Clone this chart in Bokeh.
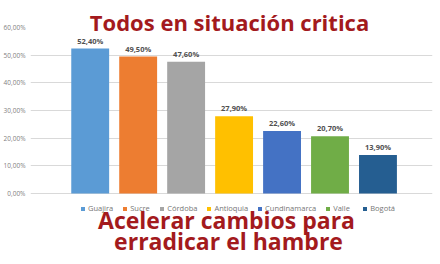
from bokeh.plotting import figure
from bokeh.models import Range1d, FixedTicker, ColumnDataSource, Legend, LegendItem
from bokeh.core.properties import value
from bokeh.embed import file_html
from bokeh.resources import INLINE

# ---- data ----
categories = ["Guajira", "Sucre", "Córdoba", "Antioquia", "Cundinamarca", "Valle", "Bogotá"]
values = [52.4, 49.5, 47.6, 27.9, 22.6, 20.7, 13.9]
value_labels = ["52,40%", "49,50%", "47,60%", "27,90%", "22,60%", "20,70%", "13,90%"]
colors = ["#5b9bd5", "#ed7d31", "#a5a5a5", "#ffc000", "#4472c4", "#70ad47", "#255e91"]
y_ticks = [0, 10, 20, 30, 40, 50, 60]
y_tick_labels = ["0,00%", "10,00%", "20,00%", "30,00%", "40,00%", "50,00%", "60,00%"]
title_text = "Todos en situación critica"
subtitle_lines = ["Acelerar cambios para", "erradicar el hambre"]

# ---- layout helpers (pixel -> data) ----
W, H = 440, 264
FL, FR = 28, 432
x0_px, dx_px = 88.0, 48.2       # first bar centre, spacing
y0_px, dy_px = 193.0, 2.767     # 0% line, pixels per percent

def px2x(px):
    return (px - x0_px) / dx_px

def py2y(py):
    return (y0_px - py) / dy_px

p = figure(width=W, height=H,
           x_range=Range1d(px2x(FL), px2x(FR)),
           y_range=Range1d(py2y(H), py2y(0)),
           output_backend="svg", toolbar_location=None,
           x_axis_location=None, y_axis_location="left",
           min_border_left=FL, min_border_right=W - FR,
           min_border_top=0, min_border_bottom=0)
p.outline_line_color = None
p.background_fill_color = "white"
p.border_fill_color = "white"

ax = p.yaxis[0]
ax.ticker = FixedTicker(ticks=y_ticks)
ax.major_label_overrides = {t: l for t, l in zip(y_ticks, y_tick_labels)}
ax.axis_line_color = None
ax.major_tick_line_color = None
ax.minor_tick_line_color = None
ax.major_tick_out = 0
ax.major_tick_in = 0
ax.minor_tick_out = 0
ax.major_label_standoff = 5
ax.major_label_text_font = "Open Sans"
ax.major_label_text_font_size = "6.5px"
ax.major_label_text_color = "#7f7f7f"

p.xgrid.visible = False
p.ygrid.ticker = FixedTicker(ticks=y_ticks[:-1])
p.ygrid.grid_line_color = "#d9d9d9"
p.ygrid.grid_line_width = 1

src = ColumnDataSource(dict(x=list(range(len(categories))), top=values,
                            cat=categories, color=colors, lab=value_labels))

bars = p.vbar(x="x", top="top", bottom=0, width=0.79, fill_color="color",
              line_color=None, source=src)

p.text(x="x", y="top", text="lab", source=src, text_align="center",
       text_baseline="bottom", y_offset=-3, text_font=value("Open Sans"),
       text_font_size="7.5px", text_font_style="bold", text_color="#505050")

legend = Legend(items=[LegendItem(label=c, renderers=[bars], index=i)
                       for i, c in enumerate(categories)])
legend.orientation = "horizontal"
legend.location = (78 - FL, H - 213)
legend.glyph_width = 5
legend.glyph_height = 5
legend.label_height = 8
legend.label_standoff = 3
legend.spacing = 9
legend.padding = 0
legend.margin = 0
legend.border_line_color = None
legend.background_fill_alpha = 0
legend.label_text_font = "Open Sans"
legend.label_text_font_size = "7.5px"
legend.label_text_color = "#767676"
p.add_layout(legend, "center")

title_color = "#a31a1d"
p.text(x=[px2x(228)], y=[py2y(21)], text=[title_text], text_align="center",
       text_baseline="alphabetic", text_font=value("Open Sans"), text_font_style="bold",
       text_font_size="22px", text_color=title_color)
p.text(x=[px2x(225), px2x(227)], y=[py2y(219), py2y(240)], text=subtitle_lines,
       text_align="center", text_baseline="alphabetic", text_font=value("Open Sans"),
       text_font_style="bold", text_font_size="23px", text_color=title_color)

open("out.html", "w").write(file_html(p, INLINE))
